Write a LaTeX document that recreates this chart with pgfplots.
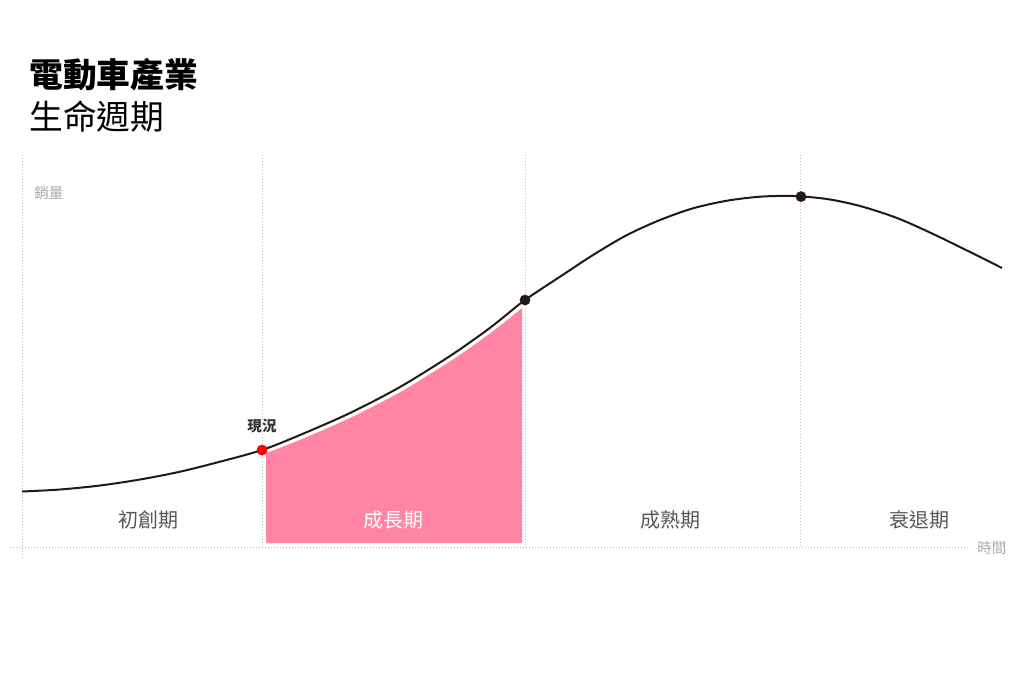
\documentclass[border=0pt]{standalone}
\usepackage{fontspec}
\setmainfont{Noto Sans CJK TC}
\usepackage{pgfplots}
\pgfplotsset{compat=1.18}

\definecolor{curve}{HTML}{231815}
\definecolor{pinkfill}{HTML}{FF85A2}
\definecolor{guide}{HTML}{BDBDBD}
\definecolor{phase}{HTML}{5A5656}
\definecolor{axislbl}{HTML}{AAAAAA}

\begin{document}
\begin{tikzpicture}
\begin{axis}[
    width=768pt, height=512.25pt,
    scale only axis,
    xmin=0, xmax=1024,
    ymin=0, ymax=683,
    y dir=reverse,
    hide axis,
    clip=false,
]
% background
\fill[white] (axis cs:0,0) rectangle (axis cs:1024,683);

% guides
\begin{scope}[guide, line width=0.75pt, dash pattern=on 0.75pt off 1.5pt]
\draw (axis cs:22,155) -- (axis cs:22,560);
\draw (axis cs:262,155) -- (axis cs:262,547);
\draw (axis cs:525,155) -- (axis cs:525,547);
\draw (axis cs:800,155) -- (axis cs:800,547);
\draw (axis cs:10,547) -- (axis cs:968,547);
\end{scope}

% growth phase area
\addplot[fill=pinkfill, draw=none] coordinates {
    (266,543) (266,448.5) (283,441.8) (300,435) (325,424.5) (350,413) (375,400.5)
    (400,387) (425,372) (450,356) (467,344.5) (483,333) (500,320) (511,311) (522,302.3)
    (522,543)
} -- cycle;

% sales curve
\addplot[white, line width=6.5pt, smooth] coordinates {
    (266,448.5) (300,435) (350,413) (400,387) (450,356) (483,333) (500,320) (525,300) (540,289)
};
\addplot[curve, line width=1.5pt, smooth] coordinates {
    (22,491.5) (60,489.5) (100,485.5) (140,479.5) (180,471.7) (220,461.7)
    (262,450) (300,435) (350,413) (400,387) (450,356) (483,333) (500,320)
    (525,300) (560,276.7) (593,255) (627,235) (660,220) (693,208.3)
    (727,200.7) (760,196.7) (793,196) (827,199) (860,206) (897,218)
    (931,233) (966,250) (1002,268)
};

% markers
\addplot[only marks, mark=*, mark size=3.8pt, color=curve] coordinates {
    (525,300) (801,196.6)
};
\addplot[only marks, mark=*, mark size=3.8pt, color=red, mark options={fill=red}] coordinates {
    (262,450)
};

% titles
\node[anchor=west, inner sep=0pt] at (axis cs:29,75)
    {\fontsize{25.3pt}{30pt}\selectfont\bfseries 電動車產業};
\node[anchor=west, inner sep=0pt] at (axis cs:29,117)
    {\fontsize{25.3pt}{30pt}\selectfont 生命週期};

% axis labels
\node[anchor=west, inner sep=0pt, text=axislbl] at (axis cs:34,193)
    {\fontsize{10.9pt}{13pt}\selectfont 銷量};
\node[anchor=west, inner sep=0pt, text=axislbl] at (axis cs:977,548)
    {\fontsize{10.9pt}{13pt}\selectfont 時間};

% phases
\node[text=phase, inner sep=0pt] at (axis cs:148,520) {\fontsize{15pt}{18pt}\selectfont 初創期};
\node[text=white, inner sep=0pt] at (axis cs:393,520) {\fontsize{15pt}{18pt}\selectfont 成長期};
\node[text=phase, inner sep=0pt] at (axis cs:670,520) {\fontsize{15pt}{18pt}\selectfont 成熟期};
\node[text=phase, inner sep=0pt] at (axis cs:919,520) {\fontsize{15pt}{18pt}\selectfont 衰退期};

% current
\node[text=black!80, inner sep=0pt] at (axis cs:262,426)
    {\fontsize{10.9pt}{13pt}\selectfont\bfseries 現況};
\end{axis}
\pgfresetboundingbox
\path[use as bounding box] (0,0) rectangle (768pt,512.25pt);
\end{tikzpicture}
\end{document}
